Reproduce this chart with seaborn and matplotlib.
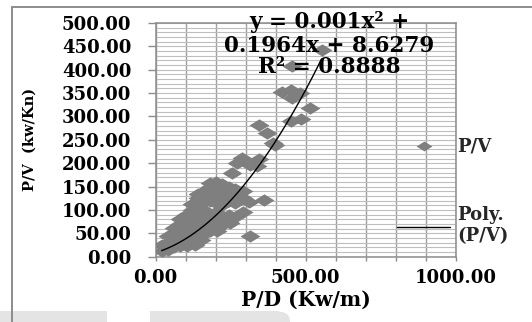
import numpy as np
import pandas as pd
import matplotlib
matplotlib.use("Agg")
import matplotlib.pyplot as plt
from matplotlib.path import Path
from matplotlib.lines import Line2D
from matplotlib.patches import Rectangle, FancyBboxPatch
import matplotlib.ticker as mticker
import seaborn as sns

# ---- data ----
pd_vals = [20, 20,
           40, 40, 40,
           60, 60, 60, 60,
           80, 80, 80, 80, 80,
           100, 100, 100, 100, 100, 105,
           120, 120, 120, 120, 120, 120, 130,
           140, 140, 140, 140, 140, 140, 140, 150,
           160, 160, 160, 160, 160, 160,
           180, 180, 180, 180, 180, 180, 180,
           200, 200, 200, 200, 200, 200, 200, 204,
           220, 220, 220, 220, 220, 220,
           245, 245, 245, 245, 245, 248,
           265, 265, 265, 265,
           290, 290, 290,
           310, 360, 315,
           254, 270, 287, 315, 337, 345,
           345, 370, 392, 398,
           450, 485, 515,
           420, 450, 480, 455, 454, 553]
pv_vals = [12, 25,
           15, 30, 45,
           20, 35, 50, 62,
           22, 38, 55, 70, 80,
           30, 45, 60, 75, 90, 22,
           32, 50, 68, 85, 100, 112, 24,
           40, 58, 75, 92, 110, 125, 135, 36,
           48, 65, 85, 100, 118, 140,
           55, 72, 90, 120, 135, 150, 158,
           60, 80, 95, 115, 130, 145, 160, 54,
           68, 88, 110, 125, 140, 155,
           75, 90, 120, 135, 150, 72,
           85, 115, 130, 145,
           95, 125, 140,
           118, 121, 45,
           180, 200, 211, 196, 193, 208,
           282, 264, 243, 239,
           290, 295, 318,
           352, 357, 350, 340, 407, 442]

# trendline coefficients as given on the chart (a*x^2 + b*x + c)
poly_coef = [0.001, 0.1964, 8.6279]
eq_lines = ["y = 0.001x\u00b2 +", "0.1964x + 8.6279", "R\u00b2 = 0.8888"]
y_ticks = [0, 50, 100, 150, 200, 250, 300, 350, 400, 450, 500]
x_ticks = [0, 100, 200, 300, 400, 500, 600, 700, 800, 900, 1000]
x_labeled = [0, 500, 1000]

df = pd.DataFrame({"P/D": pd_vals, "P/V": pv_vals})
xs = np.linspace(min(pd_vals), max(pd_vals), 200)
trend = pd.DataFrame({"x": xs, "y": np.polyval(poly_coef, xs)})

# ---- style ----
sns.set_theme(style="white")
plt.rcParams["font.family"] = ["DejaVu Serif", "DejaVu Sans"]

W, H = 532, 322
fig = plt.figure(figsize=(W / 100, H / 100), dpi=100)
fig.patch.set_facecolor("white")
ax = fig.add_axes([155.6 / W, 1 - 256.7 / H, 300.1 / W, 233.7 / H])

diamond = Path([(-1, 0), (0, 0.62), (1, 0), (0, -0.62), (-1, 0)],
               [Path.MOVETO, Path.LINETO, Path.LINETO, Path.LINETO, Path.CLOSEPOLY])

sns.scatterplot(data=df, x="P/D", y="P/V", marker=diamond, s=205,
                color="#7F7F7F", linewidth=0, ax=ax, zorder=3, label="P/V",
                legend=False)
sns.lineplot(data=trend, x="x", y="y", color="black", linewidth=1.0, ax=ax,
             zorder=4, label="Poly.\n(P/V)", legend=False)

ax.set_xlim(0, 1000)
ax.set_ylim(0, 500)
ax.set_xticks(x_ticks)
ax.set_xticklabels([f"{v:.2f}" if v in x_labeled else "" for v in x_ticks])
ax.set_yticks(y_ticks)
ax.yaxis.set_major_formatter(mticker.FormatStrFormatter("%.2f"))
ax.yaxis.set_minor_locator(mticker.MultipleLocator(10))

ax.grid(False)
ax.grid(True, axis="x", which="major", color="#9E9E9E", linewidth=1.0, zorder=0)
ax.grid(True, axis="y", which="both", color="#BEBEBE", linewidth=0.8, zorder=0)
ax.set_axisbelow(True)

for s in ax.spines.values():
    s.set_color("#8C8C8C")
    s.set_linewidth(1.1)

ax.tick_params(axis="y", which="major", direction="out", length=6, width=1,
               color="#8C8C8C", pad=11.5, left=True, labelsize=13)
ax.tick_params(axis="y", which="minor", length=0, left=False)
ax.tick_params(axis="x", which="major", direction="out", length=3, width=1,
               color="#8C8C8C", pad=5.5, bottom=True, labelsize=13)
for lab in ax.get_xticklabels() + ax.get_yticklabels():
    lab.set_fontweight("bold")
    lab.set_color("black")

ax.set_xlabel("P/D (Kw/m)", fontsize=14.5, fontweight="bold", color="black")
ax.xaxis.label.set_va("center")
ax.xaxis.set_label_coords(0.5, -0.185)
ax.set_ylabel("P/V  (kw/Kn)", fontsize=10.5, fontweight="bold", color="black")
ax.yaxis.label.set_va("center")
ax.yaxis.set_label_coords(-0.4185, 0.5)

# equation text
for txt, yy in zip(eq_lines, [1.004, 0.902, 0.812]):
    ax.text(0.578, yy, txt, transform=ax.transAxes, ha="center", va="center",
            fontsize=15.5, fontweight="bold", color="black", zorder=6, clip_on=False)

# legend
fs = 13
fs_px = fs * 100 / 72
handles, labels = ax.get_legend_handles_labels()
leg = ax.legend(handles, labels, loc="upper left",
                bbox_to_anchor=(397 / W, 1 - 137 / H), bbox_transform=fig.transFigure,
                frameon=False, borderpad=0, borderaxespad=0,
                handlelength=53 / fs_px, handletextpad=7 / fs_px,
                labelspacing=2.85, markerscale=0.8, scatterpoints=1,
                prop=dict(family="DejaVu Serif", weight="bold", size=fs))
leg.set_zorder(7)

# chart-area frame (cut at right & bottom)
fig.add_artist(Line2D([12 / W, 12 / W], [0, 1 - 7 / H], color="#8C8C8C", lw=1.4,
                      transform=fig.transFigure))
fig.add_artist(Line2D([12 / W, 1], [1 - 7 / H, 1 - 7 / H], color="#8C8C8C", lw=1.4,
                      transform=fig.transFigure))
# faint grey shapes at the bottom
fig.add_artist(Rectangle((0, 0), 107 / W, 11 / H, transform=fig.transFigure,
                         facecolor="#E4E4E4", edgecolor="none", zorder=0))
fig.add_artist(Rectangle((150 / W, 0), 125 / W, 11 / H, transform=fig.transFigure,
                         facecolor="#E4E4E4", edgecolor="none", zorder=0))
fig.add_artist(FancyBboxPatch((240 / W, -10 / H), 50 / W, 21 / H,
                              boxstyle="round,pad=0,rounding_size=0.03",
                              transform=fig.transFigure,
                              facecolor="#E4E4E4", edgecolor="none", zorder=0))

fig.savefig("out.png", dpi=100, facecolor="white")
